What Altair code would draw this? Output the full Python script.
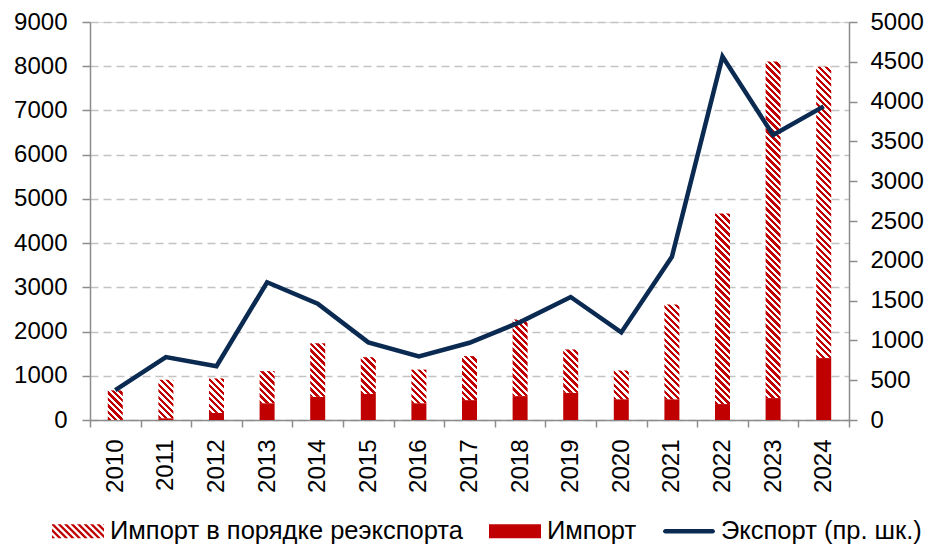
import altair as alt
import pandas as pd

# ---------------- data ----------------
years = [str(y) for y in range(2010, 2025)]
import_vals = [0, 40, 160, 380, 525, 590, 380, 450, 540, 615, 470, 470, 360, 495, 1400]
reexport_vals = [670, 870, 780, 725, 1210, 830, 760, 995, 1735, 980, 650, 2140, 4310, 7610, 6590]
export_vals = [375, 790, 675, 1730, 1460, 975, 800, 970, 1230, 1545, 1100, 2050, 4565, 3580, 3940]
series_names = ["Импорт в порядке реэкспорта", "Импорт", "Экспорт (пр. шк.)"]
left_ticks = [0, 1000, 2000, 3000, 4000, 5000, 6000, 7000, 8000, 9000]
right_ticks = [0, 500, 1000, 1500, 2000, 2500, 3000, 3500, 4000, 4500, 5000]

# ---------------- style ----------------
RED = "#C00000"
NAVY = "#0B2A52"
AXIS_GREY = "#8C8C8C"
GRID_GREY = "#C3C3C3"
FONT = "Liberation Sans"

W, H = 759, 398
LEFT_MAX, RIGHT_MAX = 9000, 5000
BAR_W = 15
HATCH_PERIOD = 6.5

df = pd.DataFrame({"year": years, "imp": import_vals, "reex": reexport_vals, "exp": export_vals})
df["tot"] = df["imp"] + df["reex"]


def hatch_gradient(h_px, w_px=BAR_W, period=HATCH_PERIOD):
    """Diagonal red/white stripes as a hard-stop linear gradient (bbox units)."""
    k = (w_px + h_px) / (w_px ** 2 + h_px ** 2)
    step = period / (w_px + h_px)
    stops = []
    t = 0.0
    while t < 1:
        a = t
        b = min(t + step / 2, 1)
        c = min(t + step, 1)
        stops += [{"offset": round(a, 5), "color": RED}, {"offset": round(b, 5), "color": RED}]
        if b < 1:
            stops += [{"offset": round(b, 5), "color": "#FFFFFF"}, {"offset": round(c, 5), "color": "#FFFFFF"}]
        t += step
    return {"gradient": "linear", "x1": 0, "y1": 1,
            "x2": round(k * w_px, 6), "y2": round(1 - k * h_px, 6), "stops": stops}


def clip(poly, a, b, c):
    out = []
    n = len(poly)
    for i in range(n):
        p, q = poly[i], poly[(i + 1) % n]
        fp = a * p[0] + b * p[1] - c
        fq = a * q[0] + b * q[1] - c
        if fp <= 0:
            out.append(p)
        if (fp < 0 < fq) or (fq < 0 < fp):
            t = fp / (fp - fq)
            out.append((p[0] + t * (q[0] - p[0]), p[1] + t * (q[1] - p[1])))
    return out


def hatch_symbol(hh=0.27, period=0.25):
    rect = [(-1, -hh), (1, -hh), (1, hh), (-1, hh)]
    parts = []
    c = -1 - hh - period
    while c < 1 + hh:
        poly = clip(rect, 1, -1, c + period / 2)
        poly = clip(poly, -1, 1, -c)
        if len(poly) >= 3:
            parts.append("M" + "L".join(f"{x:.3f},{y:.3f}" for x, y in poly) + "Z")
        c += period
    return "".join(parts)


rect_symbol = "M-1,-0.27L1,-0.27L1,0.27L-1,0.27Z"
line_symbol = ("M-0.91,-0.087L0.91,-0.087A0.087,0.087 0 0 1 0.91,0.087"
               "L-0.91,0.087A0.087,0.087 0 0 1 -0.91,-0.087Z")

# ---------------- axes ----------------
x_axis = alt.Axis(title=None, labelAngle=-90, labelFontSize=24, labelFont=FONT, labelColor="black",
                  tickBand="extent", tickSize=7, tickWidth=1.5, tickColor=AXIS_GREY,
                  domainColor=AXIS_GREY, domainWidth=1.5, labelPadding=12, grid=False)
x_enc = alt.X("year:O", sort=years, scale=alt.Scale(paddingInner=0, paddingOuter=0), axis=x_axis)

left_axis = alt.Axis(title=None, values=left_ticks, format="d", labelFontSize=24, labelFont=FONT,
                     labelColor="black", tickSize=8, tickWidth=1.5, tickColor=AXIS_GREY,
                     domainColor=AXIS_GREY, domainWidth=1.5, labelPadding=15, grid=True,
                     gridColor=GRID_GREY, gridDash=[8, 5], gridWidth=1.5, orient="left")
right_axis = alt.Axis(title=None, values=right_ticks, format="d", labelFontSize=24, labelFont=FONT,
                      labelColor="black", tickSize=8, tickWidth=1.5, tickColor=AXIS_GREY,
                      domainColor=AXIS_GREY, domainWidth=1.5, labelPadding=13, grid=False,
                      orient="right")
left_scale = alt.Scale(domain=[0, LEFT_MAX], nice=False)

# ---------------- marks ----------------
import_bar = alt.Chart(df).mark_bar(size=BAR_W, color=RED).encode(
    x=x_enc,
    y=alt.Y("imp:Q", scale=left_scale, axis=left_axis, stack=None),
)

hatch_layers = []
for yr, rv in zip(years, reexport_vals):
    h_px = rv * H / LEFT_MAX
    hatch_layers.append(
        alt.Chart(df).transform_filter(alt.datum.year == yr)
        .mark_bar(size=BAR_W, fill=hatch_gradient(h_px), strokeWidth=0)
        .encode(x=x_enc, y=alt.Y("imp:Q", scale=left_scale, axis=left_axis, stack=None), y2="tot:Q")
    )

bars = alt.layer(import_bar, *hatch_layers)

line = alt.Chart(df).mark_line(color=NAVY, strokeWidth=4.5).encode(
    x=x_enc,
    y=alt.Y("exp:Q", scale=alt.Scale(domain=[0, RIGHT_MAX], nice=False), axis=right_axis),
)

legend_def = alt.Legend(title=None, orient="none", legendX=-38, legendY=483, direction="horizontal",
                        labelFontSize=25.5, labelFont=FONT, labelColor="black", symbolSize=2704,
                        symbolStrokeWidth=0, labelOffset=6, columnPadding=26, padding=0,
                        symbolOpacity=1, labelLimit=600)
legend_layer = alt.Chart(pd.DataFrame({"series": series_names})).transform_filter("false").mark_point(
    filled=True, size=2704).encode(
    color=alt.Color("series:N", sort=series_names,
                    scale=alt.Scale(domain=series_names, range=[RED, RED, NAVY]), legend=legend_def),
    shape=alt.Shape("series:N", sort=series_names,
                    scale=alt.Scale(domain=series_names, range=[hatch_symbol(), rect_symbol, line_symbol]),
                    legend=legend_def),
)

chart = (
    alt.layer(bars, line, legend_layer)
    .resolve_scale(y="independent")
    .properties(width=W, height=H,
                padding={"left": 82, "top": 14, "right": 75, "bottom": 126},
                autosize=alt.AutoSizeParams(type="none"))
    .configure_view(stroke=None)
    .configure(font=FONT)
)

chart.save("out.html", embed_options={"renderer": "svg", "actions": False})
